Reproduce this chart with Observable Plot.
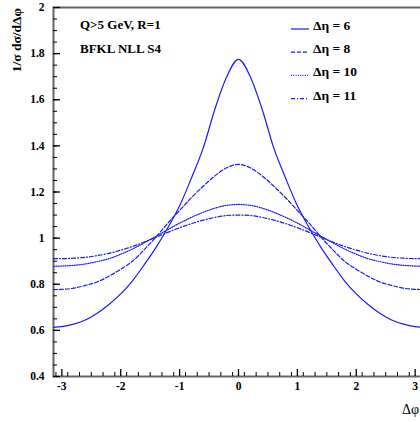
<!DOCTYPE html>
<html>
<head>
<meta charset="utf-8">
<script src="https://cdn.jsdelivr.net/npm/d3@7"></script>
<script src="https://cdn.jsdelivr.net/npm/@observablehq/plot@0.6"></script>
<style>
  html, body { margin: 0; padding: 0; overflow: hidden; background: #fff; }
  svg { display: block; max-width: none !important; }
</style>
</head>
<body>
<div id="chart"></div>
<script>
// Δφ sample positions
const phi = [-3.1416,-3.0,-2.8,-2.6,-2.4,-2.2,-2.0,-1.8,-1.6,-1.4,-1.2,-1.0,-0.8,-0.6,-0.4,-0.2,0,
             0.2,0.4,0.6,0.8,1.0,1.2,1.4,1.6,1.8,2.0,2.2,2.4,2.6,2.8,3.0,3.1416];
// 1/σ dσ/dΔφ for each Δη
const eta6  = [0.613,0.616,0.627,0.645,0.674,0.712,0.758,0.815,0.885,0.960,1.045,1.140,1.260,1.390,1.560,1.700,1.775,
               1.700,1.560,1.390,1.260,1.140,1.045,0.960,0.885,0.815,0.758,0.712,0.674,0.645,0.627,0.616,0.613];
const eta8  = [0.777,0.778,0.783,0.795,0.810,0.835,0.865,0.900,0.950,1.005,1.065,1.120,1.175,1.225,1.270,1.305,1.320,
               1.305,1.270,1.225,1.175,1.120,1.065,1.005,0.950,0.900,0.865,0.835,0.810,0.795,0.783,0.778,0.777];
const eta10 = [0.878,0.879,0.882,0.888,0.898,0.911,0.930,0.953,0.980,1.008,1.037,1.065,1.090,1.112,1.130,1.142,1.146,
               1.142,1.130,1.112,1.090,1.065,1.037,1.008,0.980,0.953,0.930,0.911,0.898,0.888,0.882,0.879,0.878];
const eta11 = [0.911,0.911,0.913,0.917,0.924,0.934,0.948,0.964,0.983,1.004,1.025,1.045,1.063,1.078,1.090,1.098,1.100,
               1.098,1.090,1.078,1.063,1.045,1.025,1.004,0.983,0.964,0.948,0.934,0.924,0.917,0.913,0.911,0.911];

const seriesNames = ["Δη = 6", "Δη = 8", "Δη = 10", "Δη = 11"];
const seriesValues = [eta6, eta8, eta10, eta11];
const dashes = [null, "4,2", "1,1.3", "4,2,1,2"];

const xTicks = [-3,-2,-1,0,1,2,3];
const yTicks = [0.4,0.6,0.8,1,1.2,1.4,1.6,1.8,2];
const xMinor = d3.range(-31, 32, 2).map(d => d / 10);
const yMinor = d3.range(8, 41).map(d => d / 20);

const infoLines = ["Q>5 GeV, R=1", "BFKL NLL S4"];
const yTitle = "1/σ dσ/dΔφ";
const xTitle = "Δφ";

const rows = [];
seriesValues.forEach((vals, i) => vals.forEach((v, j) => rows.push({s: seriesNames[i], x: phi[j], y: v})));

const font = "'Liberation Serif', 'Times New Roman', serif";
const curveMarks = seriesNames.map((name, i) =>
  Plot.line(rows.filter(r => r.s === name), {
    x: "x", y: "y", stroke: "#1a1aff", strokeWidth: 1.2,
    strokeDasharray: dashes[i], curve: "monotone-x"
  })
);

const svg = Plot.plot({
  width: 426, height: 422,
  marginLeft: 53, marginRight: 3, marginTop: 7, marginBottom: 46,
  x: {domain: [-Math.PI, Math.PI]},
  y: {domain: [0.4, 2]},
  style: {fontFamily: font, fontWeight: "bold", color: "#000", background: "#fff", maxWidth: "none"},
  marks: [
    Plot.frame({stroke: "#666", strokeWidth: 2}),
    Plot.axisX({ticks: xMinor, tickSize: -4, text: null, label: null}),
    Plot.axisX({ticks: xTicks, tickSize: -7, text: null, label: null, strokeWidth: 1.3}),
    Plot.axisX({ticks: xTicks, tickSize: 0, tickPadding: 5, tickFormat: d => String(d), fontSize: 11.5, label: null}),
    Plot.axisY({ticks: yMinor, tickSize: -4, text: null, label: null}),
    Plot.axisY({ticks: yTicks, tickSize: -7, text: null, label: null, strokeWidth: 1.3}),
    Plot.axisY({ticks: yTicks, tickSize: 0, tickPadding: 9, tickFormat: d => String(d), fontSize: 11.5, label: null}),
    Plot.axisX({ticks: [], tickSize: 0, text: null, label: null, line: true, strokeWidth: 1.5}),
    Plot.axisY({ticks: [], tickSize: 0, text: null, label: null, line: true, strokeWidth: 1.5}),
    ...curveMarks
  ]
});
svg.style.maxWidth = "none";
svg.setAttribute("width", 426);

const g = d3.select(svg).append("g").attr("font-family", font).attr("text-anchor", "start");
// info text
infoLines.forEach((t, i) => {
  g.append("text").attr("x", 80).attr("y", 29 + i * 24).attr("text-anchor", "start")
    .attr("font-size", 13).attr("font-weight", "bold").attr("fill", "#000").text(t);
});
// legend
seriesNames.forEach((name, i) => {
  const y = 29 + i * 23.2;
  g.append("line").attr("x1", 291).attr("x2", 309).attr("y1", y).attr("y2", y)
    .attr("stroke", "#1a1aff").attr("stroke-width", 1.2)
    .attr("stroke-dasharray", dashes[i]);
  g.append("text").attr("x", 313).attr("y", y + 1).attr("text-anchor", "start")
    .attr("font-size", 13.5).attr("font-weight", "bold").attr("fill", "#000").text(name);
});
// axis titles
g.append("text").attr("transform", "translate(21,8) rotate(-90)")
  .attr("text-anchor", "end").attr("font-size", 13.5).attr("font-weight", "bold")
  .attr("fill", "#000").text(yTitle);
g.append("text").attr("x", 419).attr("y", 414).attr("text-anchor", "end")
  .attr("font-size", 14).attr("font-weight", "normal").attr("fill", "#000").text(xTitle);

document.getElementById("chart").appendChild(svg);
</script>
</body>
</html>
